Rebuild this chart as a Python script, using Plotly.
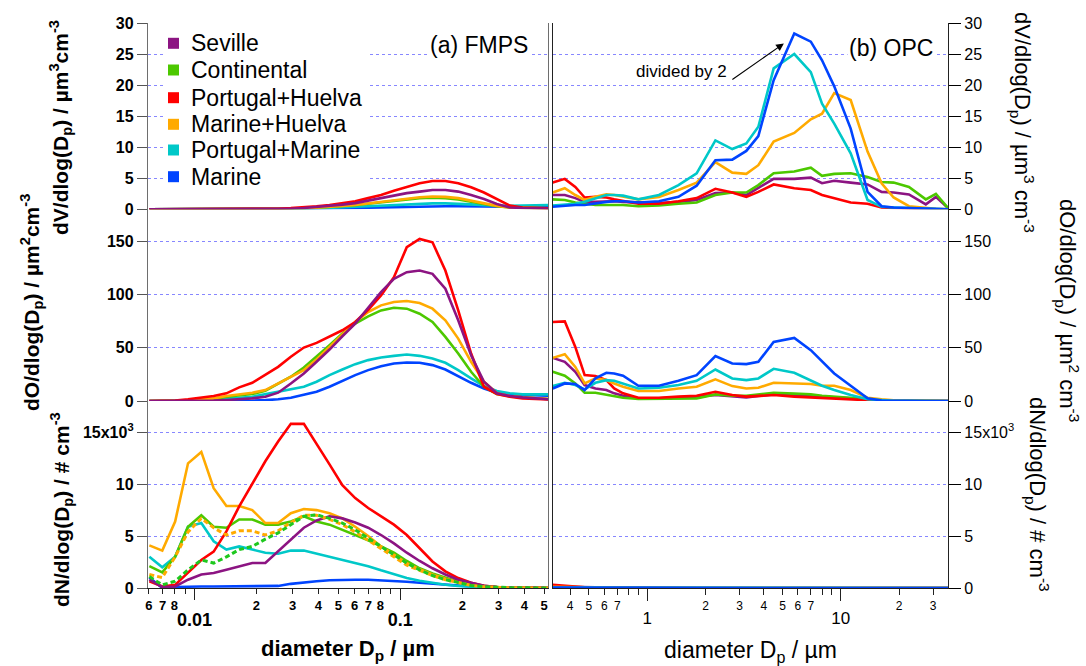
import numpy as np
import plotly.graph_objects as go

# ---------------- data ----------------
fmps_d = [0.00604, 0.00698, 0.00806, 0.00931, 0.0108, 0.0124, 0.0143, 0.0165, 0.0191, 0.0221,
          0.0255, 0.0294, 0.0340, 0.0392, 0.0453, 0.0523, 0.0604, 0.0698, 0.0806, 0.0931,
          0.1075, 0.1241, 0.1433, 0.1655, 0.1911, 0.2207, 0.2548, 0.2943, 0.3398, 0.3924,
          0.4532, 0.5233]
opc_d = [0.325, 0.375, 0.425, 0.475, 0.54, 0.615, 0.675, 0.75, 0.9, 1.15, 1.45, 1.8, 2.25, 2.75,
         3.25, 3.75, 4.5, 5.75, 7.0, 8.0, 9.25, 11.25, 13.75, 16.25, 18.75, 22.5, 27.5, 31.0, 35.8]

series = ["Seville", "Continental", "Portugal+Huelva", "Marine+Huelva", "Portugal+Marine", "Marine"]
colors = {"Seville": "#8c1482", "Continental": "#4cc800", "Portugal+Huelva": "#ff0000",
          "Marine+Huelva": "#ffaa00", "Portugal+Marine": "#00c8c8", "Marine": "#0044ff"}

# FMPS dN/dlogDp (x10^3 # cm-3)
fmps_dN_k = {
    "Portugal+Huelva": [0.65, 0.15, 0.3, 1.45, 2.7, 3.5, 5.45, 7.85, 10.1, 12.2, 14.1, 15.8, 15.8, 13.9, 11.9, 9.9,
                        8.65, 7.7, 6.9, 6.1, 5.1, 3.85, 2.55, 1.6, 0.96, 0.5, 0.22, 0.1, 0.05, 0.02, 0.01, 0.0],
    "Marine+Huelva": [4.1, 3.6, 6.4, 12.0, 13.1, 9.6, 7.9, 7.9, 7.5, 6.25, 6.25, 7.2, 7.6, 7.5, 7.2, 6.7,
                      5.9, 5.0, 4.0, 3.2, 2.4, 1.8, 1.3, 0.9, 0.55, 0.3, 0.15, 0.06, 0.03, 0.02, 0.01, 0.0],
    "Continental": [2.1, 1.5, 3.0, 5.9, 7.0, 5.9, 5.8, 6.6, 6.6, 6.1, 6.1, 6.4, 6.9, 6.4, 6.1, 5.6,
                    5.1, 4.6, 4.0, 3.4, 2.6, 1.9, 1.4, 1.0, 0.6, 0.3, 0.15, 0.06, 0.03, 0.02, 0.01, 0.0],
    "Portugal+Marine": [3.0, 2.0, 3.0, 5.9, 6.25, 4.5, 3.7, 4.0, 3.7, 3.4, 3.3, 3.6, 3.6, 3.3, 3.0, 2.7,
                        2.4, 2.1, 1.7, 1.3, 0.96, 0.7, 0.5, 0.32, 0.2, 0.1, 0.06, 0.03, 0.02, 0.01, 0.0, 0.0],
    "Marine": [1.0, 0.0, 0.1, 0.15, 0.15, 0.15, 0.15, 0.15, 0.15, 0.15, 0.2, 0.4, 0.55, 0.65, 0.75, 0.8,
               0.8, 0.8, 0.75, 0.65, 0.6, 0.5, 0.4, 0.3, 0.2, 0.12, 0.06, 0.03, 0.02, 0.01, 0.0, 0.0],
    "Seville": [0.8, 0.1, 0.15, 0.8, 1.3, 1.45, 1.75, 2.1, 2.4, 2.4, 3.5, 4.6, 5.8, 6.5, 6.9, 6.7,
                6.3, 5.8, 5.1, 4.3, 3.4, 2.6, 1.9, 1.3, 0.8, 0.5, 0.22, 0.1, 0.05, 0.02, 0.01, 0.0],
}
fmps_dN_dashed_orange_k = [1.3, 1.0, 3.0, 5.4, 6.7, 5.8, 5.1, 5.5, 5.5, 5.1, 5.5, 6.3, 7.0, 7.0, 6.6, 6.1,
                           5.4, 4.6, 3.75, 3.0, 2.2, 1.7, 1.2, 0.8, 0.5, 0.25, 0.12, 0.06, 0.03, 0.02, 0.01, 0.0]
fmps_dN_dashed_green_k = [1.1, 0.3, 0.65, 1.75, 2.7, 2.4, 3.0, 3.7, 4.0, 4.7, 5.3, 6.1, 6.9, 7.05, 6.7, 6.25,
                          5.6, 4.8, 4.0, 3.2, 2.4, 1.75, 1.2, 0.8, 0.5, 0.25, 0.13, 0.06, 0.03, 0.02, 0.01, 0.0]

# FMPS dO/dlogDp (um2 cm-3)
fmps_dO = {
    "Portugal+Huelva": [0, 0, 0.5, 1.6, 3.1, 4.7, 7.2, 12.8, 17.1, 24.3, 32.1, 41.5, 50.2, 54.6, 60.2, 66.4,
                        74.2, 85.7, 99.2, 116.3, 144.4, 152.2, 149.0, 122.5, 85.1, 44.6, 13.4, 6.5, 4.0, 2.5, 1.9, 1.5],
    "Marine+Huelva": [0, 0, 0, 0.9, 1.6, 2.5, 4.7, 6.2, 7.8, 10.3, 16.5, 22.1, 29.0, 39.0, 50.8, 63.3,
                      74.2, 83.6, 89.8, 92.9, 93.9, 92.0, 86.7, 75.8, 58.6, 36.8, 18.1, 7.2, 4.7, 3.4, 2.5, 1.9],
    "Continental": [0, 0, 0, 0.5, 1.0, 2.0, 4.0, 5.3, 6.5, 9.7, 16.5, 22.8, 31.5, 41.5, 52.4, 63.3,
                    72.7, 79.5, 85.1, 87.6, 86.7, 82.0, 74.2, 60.2, 44.6, 27.4, 13.4, 6.5, 4.5, 3.4, 2.5, 1.9],
    "Portugal+Marine": [0, 0, 0, 0.5, 1.0, 1.5, 2.5, 3.1, 4.0, 6.2, 8.7, 10.9, 13.4, 18.1, 24.3, 29.6,
                        34.6, 38.4, 40.8, 42.4, 43.7, 42.4, 39.9, 35.9, 29.0, 21.2, 14.0, 9.4, 7.2, 6.2, 6.2, 6.2],
    "Marine": [0, 0, 0, 0, 0, 0, 0, 0, 0.3, 0.8, 1.6, 3.1, 5.6, 8.7, 13.4, 19.0,
               24.3, 29.0, 32.7, 35.2, 36.2, 35.9, 33.7, 29.6, 23.4, 17.1, 11.8, 7.8, 6.2, 5.6, 5.3, 5.0],
    "Seville": [0, 0, 0, 0, 0.3, 0.5, 1.0, 1.5, 2.5, 4.0, 7.8, 16.5, 25.9, 36.8, 48.3, 60.8,
                72.7, 87.6, 102.3, 114.7, 121.0, 122.5, 119.4, 105.4, 75.8, 43.0, 18.1, 7.2, 4.7, 3.4, 2.2, 1.6],
}

# FMPS dV/dlogDp (um3 cm-3)
fmps_dV = {
    "Portugal+Huelva": [0, 0, 0, 0, 0, 0, 0, 0, 0, 0.05, 0.1, 0.2, 0.3, 0.5, 0.7, 1.0,
                        1.3, 1.8, 2.3, 3.0, 3.65, 4.2, 4.55, 4.55, 4.2, 3.55, 2.7, 1.6, 0.6, 0.3, 0.2, 0.15],
    "Marine+Huelva": [0, 0, 0, 0, 0, 0, 0, 0, 0, 0, 0.05, 0.1, 0.15, 0.25, 0.4, 0.55,
                      0.7, 0.95, 1.2, 1.5, 1.8, 1.95, 2.05, 2.0, 1.8, 1.4, 0.95, 0.55, 0.3, 0.25, 0.2, 0.15],
    "Continental": [0, 0, 0, 0, 0, 0, 0, 0, 0, 0, 0.05, 0.1, 0.15, 0.25, 0.35, 0.5,
                    0.65, 0.9, 1.15, 1.4, 1.65, 1.8, 1.85, 1.8, 1.6, 1.25, 0.85, 0.5, 0.3, 0.25, 0.2, 0.15],
    "Portugal+Marine": [0, 0, 0, 0, 0, 0, 0, 0, 0, 0, 0, 0.05, 0.1, 0.15, 0.2, 0.3,
                        0.4, 0.5, 0.6, 0.7, 0.8, 0.9, 0.95, 0.95, 0.9, 0.8, 0.65, 0.55, 0.55, 0.6, 0.65, 0.7],
    "Marine": [0, 0, 0, 0, 0, 0, 0, 0, 0, 0, 0, 0, 0.05, 0.1, 0.15, 0.2,
               0.25, 0.3, 0.35, 0.4, 0.45, 0.5, 0.5, 0.5, 0.5, 0.45, 0.4, 0.4, 0.4, 0.45, 0.5, 0.5],
    "Seville": [0, 0, 0, 0, 0, 0, 0, 0, 0, 0, 0.05, 0.1, 0.2, 0.35, 0.5, 0.75,
                1.0, 1.4, 1.8, 2.15, 2.6, 2.85, 3.1, 3.1, 2.85, 2.3, 1.65, 0.85, 0.3, 0.2, 0.15, 0.1],
}

# OPC dN/dlogDp (# cm-3)
opc_dN = {
    "Seville": [130, 110, 70, 30, 25, 15, 10, 6, 3, 2, 1, 1, 1, 0.5, 0.3, 0.3, 0.3, 0.2, 0.1, 0.1, 0, 0, 0, 0, 0, 0, 0, 0, 0],
    "Continental": [80, 60, 40, 15, 12, 8, 5, 3, 2, 1, 1, 1, 1, 0.5, 0.5, 0.5, 0.4, 0.2, 0.1, 0.1, 0, 0, 0, 0, 0, 0, 0, 0, 0],
    "Portugal+Huelva": [300, 250, 150, 60, 50, 30, 20, 10, 5, 3, 2, 2, 2, 1, 0.5, 0.5, 0.5, 0.3, 0.2, 0.1, 0.1, 0, 0, 0, 0, 0, 0, 0, 0],
    "Marine+Huelva": [120, 100, 60, 25, 25, 15, 10, 8, 4, 2, 2, 1, 1, 0.6, 0.4, 0.3, 0.3, 0.2, 0.1, 0.1, 0, 0, 0, 0, 0, 0, 0, 0, 0],
    "Portugal+Marine": [40, 40, 25, 15, 18, 16, 13, 9, 5, 3, 2, 2, 2, 1, 0.6, 0.5, 0.5, 0.3, 0.1, 0.1, 0, 0, 0, 0, 0, 0, 0, 0, 0],
    "Marine": [35, 37, 28, 15, 23, 22, 18, 13, 6, 3, 3, 2, 3, 1.5, 1, 0.8, 0.9, 0.6, 0.3, 0.2, 0.1, 0, 0, 0, 0, 0, 0, 0, 0],
}

# OPC dO/dlogDp (um2 cm-3)
opc_dO = {
    "Seville": [40.5, 36.8, 27.4, 15.0, 11.8, 10.3, 7.2, 5.0, 2.5, 2.5, 3.4, 4.1, 5.6, 4.1, 3.4, 4.7,
                6.2, 5.6, 4.7, 3.4, 3.4, 2.5, 1.6, 0.8, 0.5, 0.3, 0.1, 0.1, 0.0],
    "Continental": [27.4, 23.7, 16.5, 7.8, 7.8, 6.2, 4.7, 3.1, 1.9, 1.9, 2.2, 2.5, 6.2, 5.0, 5.0, 6.2,
                    7.8, 6.9, 6.2, 5.0, 4.1, 3.1, 1.6, 0.8, 0.5, 0.3, 0.1, 0.1, 0.0],
    "Portugal+Huelva": [74.2, 74.8, 50.8, 24.3, 23.4, 19.6, 11.8, 7.2, 3.1, 3.1, 4.1, 5.0, 8.7, 5.6, 4.1, 5.0,
                        5.6, 4.1, 3.4, 2.5, 1.9, 1.2, 0.3, 0.1, 0.0, 0.0, 0.0, 0.0, 0.0],
    "Marine+Huelva": [40.5, 44.0, 32.0, 16.5, 21.2, 19.6, 16.5, 13.4, 9.4, 9.4, 11.8, 13.4, 20.3, 14.0, 11.8, 12.5,
                      17.1, 16.5, 15.9, 14.3, 14.3, 10.3, 3.1, 1.6, 0.6, 0.3, 0.1, 0.1, 0.0],
    "Portugal+Marine": [14.0, 17.1, 15.0, 10.9, 17.1, 19.6, 19.0, 16.5, 11.8, 12.5, 15.0, 19.0, 29.6, 21.2, 19.6, 21.2,
                        30.2, 26.5, 19.6, 14.3, 10.3, 5.6, 1.6, 0.5, 0.2, 0.1, 0.0, 0.0, 0.0],
    "Marine": [11.8, 16.5, 15.9, 10.3, 21.2, 26.5, 25.9, 23.7, 14.3, 14.3, 19.0, 24.3, 42.1, 35.2, 34.6, 36.8,
               55.5, 59.2, 47.7, 37.7, 25.9, 14.3, 2.5, 0.5, 0.2, 0.1, 0.0, 0.0, 0.0],
}

# OPC dV/dlogDp (um3 cm-3); Marine shown divided by 2
opc_dV = {
    "Seville": [2.3, 2.3, 1.8, 1.2, 1.2, 1.3, 1.3, 1.2, 1.1, 1.0, 1.2, 1.5, 2.6, 2.7, 2.3, 3.4,
                4.9, 4.9, 5.1, 4.2, 4.6, 4.3, 4.0, 2.8, 2.7, 2.4, 0.8, 2.0, 0.2],
    "Continental": [1.6, 1.5, 1.1, 0.9, 0.7, 0.7, 0.7, 0.7, 0.5, 0.6, 0.9, 1.1, 2.3, 2.7, 2.7, 3.9,
                    5.8, 6.1, 6.7, 5.4, 5.7, 5.8, 5.2, 4.4, 4.3, 3.6, 1.6, 2.5, 0.2],
    "Portugal+Huelva": [4.3, 4.9, 3.6, 1.9, 2.0, 1.9, 1.6, 1.3, 0.9, 0.9, 1.3, 1.8, 3.3, 2.7, 2.0, 2.8,
                        4.0, 3.4, 3.1, 2.3, 1.8, 1.1, 0.9, 0.3, 0.2, 0.1, 0.0, 0.0, 0.0],
    "Marine+Huelva": [2.7, 3.4, 2.3, 1.5, 2.0, 2.4, 2.3, 2.0, 1.6, 2.0, 3.1, 4.3, 7.6, 5.9, 5.7, 7.1,
                      10.9, 12.3, 14.5, 15.4, 18.7, 17.6, 9.3, 4.2, 1.9, 0.5, 0.2, 0.1, 0.0],
    "Portugal+Marine": [0.6, 0.8, 0.9, 1.2, 1.8, 2.3, 2.3, 2.2, 1.6, 2.3, 3.9, 5.8, 11.1, 9.7, 10.6, 13.3,
                        22.7, 25.0, 22.1, 17.0, 13.8, 9.0, 1.5, 0.4, 0.3, 0.2, 0.15, 0.1, 0.0],
    "Marine": [0.4, 0.6, 0.7, 0.7, 1.0, 1.2, 1.3, 1.3, 1.1, 1.3, 2.0, 3.8, 7.9, 8.0, 9.4, 11.8,
               20.8, 28.3, 27.0, 24.0, 19.8, 13.0, 2.8, 0.5, 0.3, 0.2, 0.15, 0.1, 0.0],
}

left_minor_ticks = [0.006, 0.007, 0.008, 0.009, 0.02, 0.03, 0.04, 0.05, 0.06, 0.07, 0.08, 0.09, 0.2, 0.3, 0.4, 0.5]
left_minor_labels = ["6", "7", "8", "", "2", "3", "4", "5", "6", "7", "8", "", "2", "3", "4", "5"]
left_major_ticks = [0.01, 0.1]
left_major_labels = ["0.01", "0.1"]
right_minor_ticks = [0.4, 0.5, 0.6, 0.7, 0.8, 0.9, 2, 3, 4, 5, 6, 7, 8, 9, 20, 30]
right_minor_labels = ["4", "5", "6", "7", "", "", "2", "3", "4", "5", "6", "7", "", "", "2", "3"]
right_major_ticks = [1, 10]
right_major_labels = ["1", "10"]

# ---------------- figure ----------------
W, H = 1086, 666
ML, MR, MT, MB = 148, 138, 23, 78
PW, PH = W - ML - MR, H - MT - MB


def px_x(px):
    return (px - ML) / PW


def px_y(py):
    return (H - MB - py) / PH


FONT = "Arial, 'Liberation Sans', Helvetica, sans-serif"
LW = 2.6

xl_dom = [0, px_x(548.3)]
xr_dom = [px_x(552.7), 1]
yb_dom = [0, px_y(401)]
ym_dom = [px_y(401), px_y(209.3)]
yt_dom = [px_y(209.3), 1]

fig = go.Figure()

left_order = ["Marine", "Portugal+Marine", "Continental", "Marine+Huelva", "Portugal+Huelva", "Seville"]
right_order = ["Seville", "Continental", "Portugal+Huelva", "Marine+Huelva", "Portugal+Marine", "Marine"]

for name in left_order:
    fig.add_trace(go.Scatter(x=fmps_d, y=[v * 1000 for v in fmps_dN_k[name]], mode="lines", name=name,
                             line=dict(color=colors[name], width=LW), xaxis="x", yaxis="y", showlegend=False))
fig.add_trace(go.Scatter(x=fmps_d, y=[v * 1000 for v in fmps_dN_dashed_orange_k], mode="lines",
                         name="Marine+Huelva (dashed)", line=dict(color="#ffaa00", width=3, dash="5px,3px"),
                         xaxis="x", yaxis="y", showlegend=False))
fig.add_trace(go.Scatter(x=fmps_d, y=[v * 1000 for v in fmps_dN_dashed_green_k], mode="lines",
                         name="Continental (dashed)", line=dict(color="#1ec81e", width=3, dash="5px,3px"),
                         xaxis="x", yaxis="y", showlegend=False))
for name in left_order:
    fig.add_trace(go.Scatter(x=fmps_d, y=fmps_dO[name], mode="lines", name=name,
                             line=dict(color=colors[name], width=LW), xaxis="x2", yaxis="y2", showlegend=False))
for name in left_order:
    fig.add_trace(go.Scatter(x=fmps_d, y=fmps_dV[name], mode="lines", name=name,
                             line=dict(color=colors[name], width=LW), xaxis="x3", yaxis="y3", showlegend=False))
for name in right_order:
    fig.add_trace(go.Scatter(x=opc_d, y=opc_dN[name], mode="lines", name=name,
                             line=dict(color=colors[name], width=LW), xaxis="x4", yaxis="y4", showlegend=False))
for name in right_order:
    fig.add_trace(go.Scatter(x=opc_d, y=opc_dO[name], mode="lines", name=name,
                             line=dict(color=colors[name], width=LW), xaxis="x5", yaxis="y5", showlegend=False))
for name in right_order:
    fig.add_trace(go.Scatter(x=opc_d, y=opc_dV[name], mode="lines", name=name,
                             line=dict(color=colors[name], width=LW), xaxis="x6", yaxis="y6", showlegend=False))
# empty traces that carry the major-tick overlay axes
fig.add_trace(go.Scatter(x=[], y=[], xaxis="x7", yaxis="y", showlegend=False, hoverinfo="skip"))
fig.add_trace(go.Scatter(x=[], y=[], xaxis="x8", yaxis="y4", showlegend=False, hoverinfo="skip"))

xl_range = [np.log10(0.00595), np.log10(0.5233)]
xr_range = [np.log10(0.3248), np.log10(35.8)]

GRID = dict(showgrid=True, gridcolor="rgba(70,70,255,0.65)", griddash="dot", gridwidth=1, zeroline=False)
LEFT_Y = dict(GRID, showline=True, mirror=True, linecolor="#6e6e6e", linewidth=1.3, ticks="outside", ticklen=10,
              tickcolor="#555", tickfont=dict(family=FONT, size=16, color="black", weight="bold"), fixedrange=True)
RIGHT_Y = dict(GRID, showline=True, mirror=True, linecolor="#222", linewidth=1.3, ticks="outside", ticklen=12,
               tickcolor="black", side="right", tickfont=dict(family=FONT, size=16, color="black"), fixedrange=True)
HIDDEN_X = dict(showgrid=False, zeroline=False, showline=False, ticks="", showticklabels=False, type="log")

fig.update_layout(
    width=W, height=H, margin=dict(l=ML, r=MR, t=MT, b=MB, pad=0),
    paper_bgcolor="white", plot_bgcolor="rgba(0,0,0,0)",
    font=dict(family=FONT, color="black"), showlegend=False,
    xaxis=dict(domain=xl_dom, anchor="y", type="log", range=xl_range, showgrid=False, zeroline=False,
               showline=True, linecolor="#222", linewidth=1.3, ticks="outside", ticklen=5, tickcolor="#222",
               tickvals=left_minor_ticks, ticktext=left_minor_labels,
               tickfont=dict(family=FONT, size=13, color="black", weight="bold")),
    xaxis7=dict(overlaying="x", anchor="y", type="log", range=xl_range, showgrid=False, zeroline=False,
                showline=False, ticks="outside", ticklen=11, tickcolor="#222", side="bottom",
                tickvals=left_major_ticks, ticktext=left_major_labels, ticklabelstandoff=4,
                tickfont=dict(family=FONT, size=18, color="black", weight="bold")),
    xaxis2=dict(HIDDEN_X, domain=xl_dom, anchor="y2", range=xl_range),
    xaxis3=dict(HIDDEN_X, domain=xl_dom, anchor="y3", range=xl_range),
    xaxis4=dict(domain=xr_dom, anchor="y4", type="log", range=xr_range, showgrid=False, zeroline=False,
                showline=True, linecolor="#222", linewidth=1.3, ticks="outside", ticklen=6, tickcolor="#222",
                tickvals=right_minor_ticks, ticktext=right_minor_labels,
                tickfont=dict(family=FONT, size=12, color="black")),
    xaxis8=dict(overlaying="x4", anchor="y4", type="log", range=xr_range, showgrid=False, zeroline=False,
                showline=False, ticks="outside", ticklen=12, tickcolor="#222", side="bottom",
                tickvals=right_major_ticks, ticktext=right_major_labels, ticklabelstandoff=3,
                tickfont=dict(family=FONT, size=17, color="black")),
    xaxis5=dict(HIDDEN_X, domain=xr_dom, anchor="y5", range=xr_range),
    xaxis6=dict(HIDDEN_X, domain=xr_dom, anchor="y6", range=xr_range),
    yaxis=dict(LEFT_Y, domain=yb_dom, anchor="x", range=[0, 18000], tickvals=[0, 5000, 10000, 15000],
               ticktext=["0", "5", "10", "15x10<sup>3</sup>"]),
    yaxis2=dict(LEFT_Y, domain=ym_dom, anchor="x2", range=[0, 180], tickvals=[0, 50, 100, 150]),
    yaxis3=dict(LEFT_Y, domain=yt_dom, anchor="x3", range=[0, 30], tickvals=[0, 5, 10, 15, 20, 25, 30]),
    yaxis4=dict(RIGHT_Y, domain=yb_dom, anchor="x4", range=[0, 18000], tickvals=[0, 5000, 10000, 15000],
                ticktext=["0", "5", "10", "15x10<sup>3</sup>"]),
    yaxis5=dict(RIGHT_Y, domain=ym_dom, anchor="x5", range=[0, 180], tickvals=[0, 50, 100, 150]),
    yaxis6=dict(RIGHT_Y, domain=yt_dom, anchor="x6", range=[0, 30], tickvals=[0, 5, 10, 15, 20, 25, 30]),
)

ann = []
BOLD_T = dict(family=FONT, size=21, color="black", weight="bold")
REG_T = dict(family=FONT, size=22, color="black")
# left y titles
ann.append(dict(text="dV/dlog(D<sub>p</sub>) / µm<sup>3</sup>cm<sup>-3</sup>", x=px_x(61), y=px_y(128),
                textangle=-90, font=BOLD_T))
ann.append(dict(text="dO/dlog(D<sub>p</sub>) / µm<sup>2</sup>cm<sup>-3</sup>", x=px_x(31), y=px_y(303),
                textangle=-90, font=BOLD_T))
ann.append(dict(text="dN/dlog(D<sub>p</sub>) / # cm<sup>-3</sup>", x=px_x(61), y=px_y(510),
                textangle=-90, font=BOLD_T))
# right y titles
ann.append(dict(text="dV/dlog(D<sub>p</sub>) / µm<sup>3</sup> cm<sup>-3</sup>", x=px_x(1022), y=px_y(122),
                textangle=90, font=REG_T))
ann.append(dict(text="dO/dlog(D<sub>p</sub>) / µm<sup>2</sup> cm<sup>-3</sup>", x=px_x(1068), y=px_y(310),
                textangle=90, font=REG_T))
ann.append(dict(text="dN/dlog(D<sub>p</sub>) / # cm<sup>-3</sup>", x=px_x(1038), y=px_y(494),
                textangle=90, font=REG_T))
# x titles
ann.append(dict(text="diameter D<sub>p</sub> / µm", x=px_x(348), y=px_y(650),
                font=dict(family=FONT, size=22, color="black", weight="bold")))
ann.append(dict(text="diameter D<sub>p</sub> / µm", x=px_x(750.5), y=px_y(651),
                font=dict(family=FONT, size=23, color="black")))
# panel labels
ann.append(dict(text="(a) FMPS", x=px_x(478.5), y=px_y(45), bgcolor="white",
                font=dict(family=FONT, size=23, color="black")))
ann.append(dict(text="(b) OPC", x=px_x(891.4), y=px_y(48), bgcolor="white",
                font=dict(family=FONT, size=23, color="black")))
ann.append(dict(text="divided by 2", x=px_x(681), y=px_y(72), font=dict(family=FONT, size=17, color="black")))
for a in ann:
    a.update(xref="paper", yref="paper", showarrow=False, xanchor="center", yanchor="middle")

# arrow to Marine OPC peak
ann.append(dict(text="", xref="x6", yref="y6", x=np.log10(5.08), y=26.7, ax=-53, ay=37,
                showarrow=True, arrowhead=2, arrowsize=1.4, arrowwidth=1.1, arrowcolor="black"))

# manual legend
shapes = [dict(type="rect", xref="paper", yref="paper", x0=px_x(165), x1=px_x(368), y0=px_y(190), y1=px_y(28),
               fillcolor="white", line=dict(width=0), layer="above")]
leg_y = [43.3, 70, 97.7, 124.3, 150, 176.7]
for name, yy in zip(series, leg_y):
    shapes.append(dict(type="rect", xref="paper", yref="paper", x0=px_x(168), x1=px_x(179),
                       y0=px_y(yy + 5.5), y1=px_y(yy - 5.5), fillcolor=colors[name], line=dict(width=0),
                       layer="above"))
    ann.append(dict(text=name, xref="paper", yref="paper", x=px_x(189), y=px_y(yy), xanchor="left",
                    yanchor="middle", showarrow=False, font=dict(family=FONT, size=23, color="black")))

fig.update_layout(annotations=ann, shapes=shapes)
fig.write_html("out.html")
